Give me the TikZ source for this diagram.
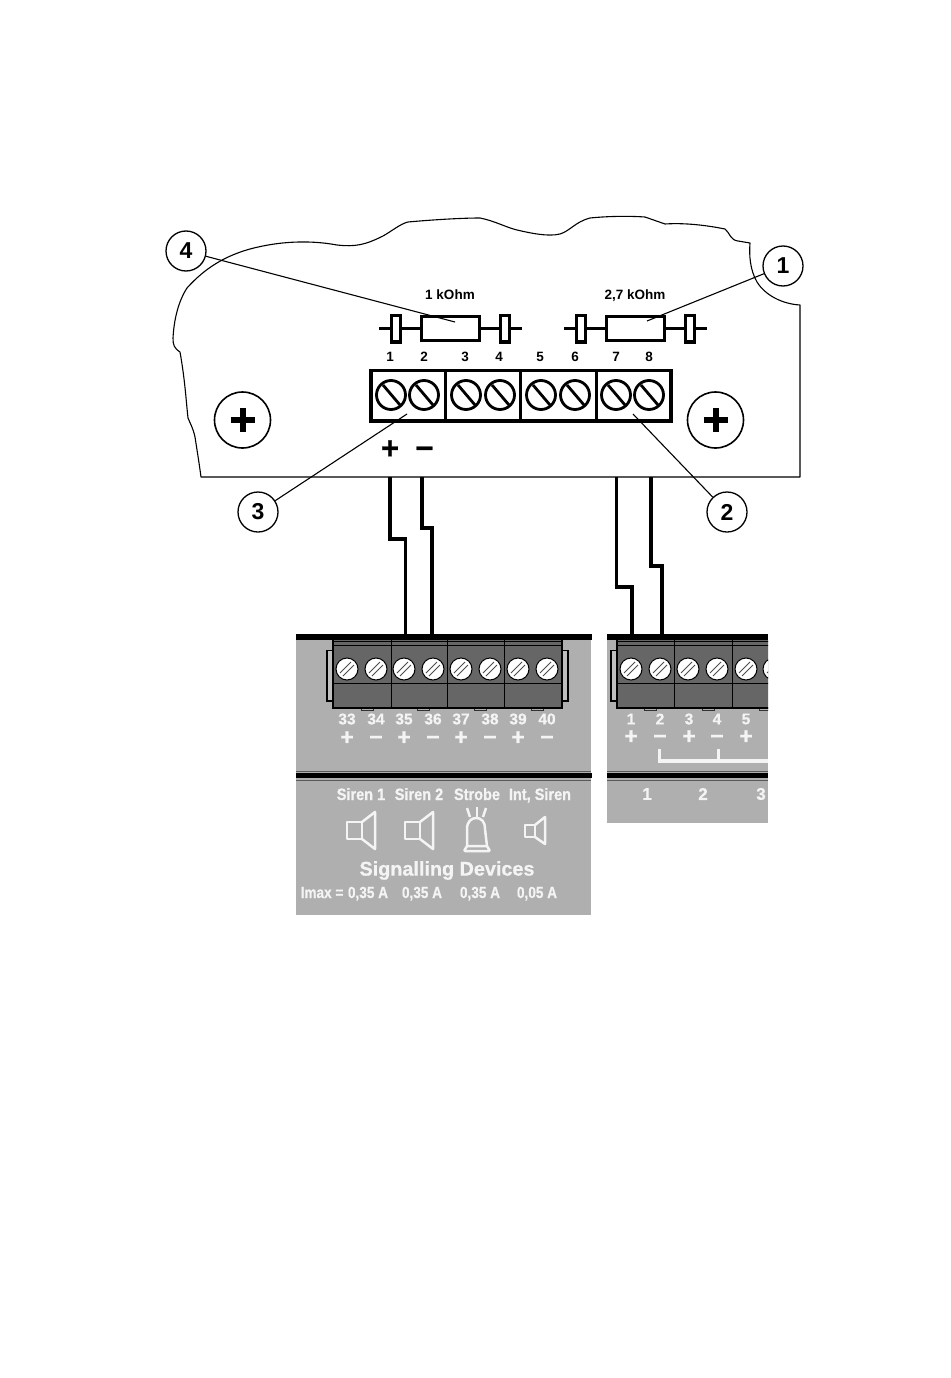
\documentclass[tikz,border=0pt]{standalone}
\usepackage{fontspec}
\setmainfont{Liberation Sans}
\newfontfamily\hv[BoldFeatures={FakeBold=0.7}]{Liberation Sans}
\newcommand{\fs}[1]{\fontsize{#1}{#1}\selectfont\bfseries}
\newcommand{\hs}[1]{\fontsize{#1}{#1}\selectfont\hv\bfseries}
\newcommand{\mns}{\vphantom{+}−}
\definecolor{panelgrey}{HTML}{AFAFAF}
\definecolor{blockgrey}{HTML}{666666}
\definecolor{softwhite}{HTML}{F4F4F4}
\tikzset{
  outline/.style={draw=black,line width=1.1pt},
  callout/.style={circle,draw=black,line width=1.3pt,minimum size=40pt,inner sep=0pt,font=\fs{23}},
  leader/.style={draw=black,line width=1.1pt},
  wire/.style={draw=black,line width=3.2pt,line join=miter},
  lead/.style={draw=black,line width=3pt},
  resbody/.style={draw=black,line width=3.5pt,fill=white},
  clipbox/.style={draw=black,line width=3.5pt,fill=white},
  blockframe/.style={draw=black,line width=3.2pt,fill=white},
  pinlabel/.style={inner sep=0pt,font=\fs{13.5}},
  vallabel/.style={inner sep=0pt,anchor=base,font=\fs{13.5}},
  bigsign/.style={inner sep=0pt,font=\hs{31}},
  screwring/.style={draw=black,line width=2.8pt},
  panelbar/.style={fill=black,draw=none},
  panelline/.style={draw=black!65,line width=.8pt},
  tlabel/.style={inner sep=0pt,text=softwhite,font=\hs{15.5}},
  slabel/.style={inner sep=0pt,text=softwhite,font=\hs{23}},
  dlabel/.style={inner sep=0pt,anchor=base,text=softwhite,xscale=.88,font=\hs{16.5}},
  ilabel/.style={inner sep=0pt,anchor=base,text=softwhite,xscale=.85,font=\hs{16}},
  icon/.style={draw=softwhite,line width=2.5pt,line join=round},
  blockline/.style={draw=black,line width=1pt},
  ear/.style={draw=black,line width=1.5pt,fill=panelgrey!80!white},
  tab/.style={draw=black!80,line width=.7pt,fill=panelgrey},
}
\newcommand{\smallscrew}[2]{%
  \draw[black,line width=1pt,fill=white] (#1,#2) circle (11);
  \draw[black!70,line width=.8pt] (#1-7,#2+4) -- (#1+4,#2-7);
  \draw[black!70,line width=.8pt] (#1-4,#2+7) -- (#1+7,#2-4);
}
\newcommand{\bigscrew}[1]{%
  \draw[screwring] (#1,395) circle (14.5);
  \draw[black,line width=2.8pt] (#1-8,385) -- (#1+9,405);
}
\begin{document}
\begin{tikzpicture}[x=1pt,y=-1pt]
\useasboundingbox (0,0) rectangle (950,1378);
\fill[white] (0,0) rectangle (950,1378);

% board outline
\draw[outline,line join=round] (201,477)
  .. controls (199,462) and (197,450) .. (195,437)
  .. controls (193,428) and (190,423) .. (188,418)
  .. controls (186,400) and (185,380) .. (180,352)
  .. controls (174,348) and (173,345) .. (173,338)
  .. controls (174,320) and (178,302) .. (187,288)
  .. controls (205,268) and (225,256) .. (250,249)
  .. controls (280,241) and (310,240) .. (337,245)
  .. controls (355,247) and (365,245) .. (383,236)
  .. controls (392,231) and (400,224) .. (408,222)
  .. controls (430,220) and (460,218) .. (480,218)
  .. controls (495,221) and (505,227) .. (517,230)
  .. controls (530,233) and (548,237) .. (560,234)
  .. controls (570,231) and (575,222) .. (590,218)
  .. controls (610,216) and (630,216) .. (645,217)
  -- (665,224)
  .. controls (680,223) and (700,224) .. (725,229)
  .. controls (730,233) and (730,240) .. (738,241)
  -- (750,243)
  .. controls (749,255) and (750,270) .. (757,282)
  .. controls (765,295) and (782,304) .. (800,305)
  -- (800,477) -- cycle;

% resistors
\coordinate (r1l) at (379,328); \coordinate (r1r) at (522,328);
\coordinate (r2l) at (564,328); \coordinate (r2r) at (707,328);
\draw[lead] (r1l) -- (r1r);
\draw[lead] (r2l) -- (r2r);
\foreach \cx in {390,499,575,684}{\draw[clipbox] (\cx+1.5,315.5) rectangle (\cx+10.5,342);}
\node[resbody,minimum width=58pt,minimum height=24pt,inner sep=0pt] (res1) at (450.5,328.5) {};
\node[resbody,minimum width=58pt,minimum height=24pt,inner sep=0pt] (res2) at (635.5,328.5) {};
\node[vallabel] (val1) at (450,299) {1 kOhm};
\node[vallabel] (val2) at (635,299) {2,7 kOhm};
\foreach \n/\x in {1/390,2/424,3/465,4/499,5/540,6/575,7/616,8/649}{
  \node[pinlabel] (pin\n) at (\x,357) {\n};}

% terminal block on board
\draw[blockframe] (371,370.5) rectangle (671,421);
\foreach \x in {445,520,596}{\draw[black,line width=3pt] (\x,370.5) -- (\x,421);}
\foreach \x in {391,424,466,500,541,575,616,649}{\bigscrew{\x}}

% mounting screws
\foreach \x in {242.5,715.5}{
  \draw[black,line width=1.6pt] (\x,420) circle (28);
  \draw[black,line width=6pt] (\x-12,420) -- (\x+12,420);
  \draw[black,line width=6pt] (\x,408) -- (\x,432);
}
\node[bigsign] (plus) at (390,449.5) {+};
\node[bigsign] (minus) at (424.5,449.5) {\mns};

% callouts and leaders
\node[callout] (c1) at (783,266) {1};
\node[callout] (c2) at (727,512) {2};
\node[callout] (c3) at (258,512) {3};
\node[callout] (c4) at (186,251) {4};
\coordinate (t1) at (647,321);
\coordinate (t2) at (633,414);
\coordinate (t3) at (407,414);
\coordinate (t4) at (455,322);
\draw[leader] (c1) -- (t1);
\draw[leader] (c2) -- (t2);
\draw[leader] (c3) -- (t3);
\draw[leader] (c4) -- (t4);

% wires
\coordinate (w1a) at (390,477); \coordinate (w1b) at (405.5,635);
\coordinate (w2a) at (422,477); \coordinate (w2b) at (432,635);
\coordinate (w3a) at (616.5,477); \coordinate (w3b) at (632,635);
\coordinate (w4a) at (651,477); \coordinate (w4b) at (662,635);
\draw[wire] (w1a) |- (397,539) -| (w1b);
\draw[wire] (w2a) |- (427,528) -| (w2b);
\draw[wire] (w3a) |- (624,587) -| (w3b);
\draw[wire] (w4a) |- (656,566) -| (w4b);

% left panel
\fill[panelgrey] (296,635) rectangle (591,915);
\draw[ear] (327,650.5) rectangle (334,701);
\draw[ear] (561,650.5) rectangle (568,701);
\foreach \x in {361,417,474,531}{\draw[tab] (\x,708) rectangle (\x+12,710.5);}
\fill[blockgrey] (333,640) rectangle (562,708);
\draw[black,line width=.7pt] (333,641.5) -- (562,641.5);
\draw[blockline] (333,645) -- (562,645);
\draw[blockline] (333,683.5) -- (562,683.5);
\draw[black,line width=1.3pt] (333,640) -- (333,708) -- (562,708) -- (562,640);
\foreach \x in {391,447,504}{\draw[blockline] (\x,640) -- (\x,708);}
\foreach \x in {347,376,404,433,461,490,518,547}{\smallscrew{\x}{669}}
\fill[panelbar] (296,634) rectangle (592,640);
\draw[panelline] (296,771) -- (591,771);
\fill[panelbar] (296,773) rectangle (592,778);
\draw[panelline] (296,780) -- (591,780);
\foreach \n/\x in {33/347,34/376,35/404,36/433,37/461,38/490,39/518,40/547}{
  \node[tlabel] (l\n) at (\x,719) {\n};}
\foreach \x in {347,404,461,518}{\node[slabel] at (\x,738) {+};}
\foreach \x in {376,433,490,547}{\node[slabel] at (\x,738) {\mns};}

\node[dlabel] (d1) at (361,800) {Siren 1};
\node[dlabel] (d2) at (419,800) {Siren 2};
\node[dlabel] (d3) at (477,800) {Strobe};
\node[dlabel] (d4) at (540,800) {Int, Siren};

% speakers
\draw[icon] (347,822) rectangle (362,839);
\draw[icon] (362,822) -- (375,812) -- (375,849) -- (362,839);
\draw[icon] (405,822) rectangle (420,839);
\draw[icon] (420,822) -- (433,812) -- (433,849) -- (420,839);
\draw[icon] (525,825) rectangle (535,837);
\draw[icon] (535,825) -- (545,817) -- (545,844) -- (535,837);
% strobe
\draw[icon] (467,846) -- (467,829) .. controls (467,821) and (472,818) .. (476,818)
  .. controls (481,818) and (485,821) .. (485,829) -- (487,846);
\draw[icon,rounded corners=1pt] (464,851) -- (490,851) -- (487,846) -- (467,846) -- cycle;
\draw[icon] (467,808) -- (470,817);
\draw[icon] (477,807) -- (477,817);
\draw[icon] (486,808) -- (483,817);

\node[text=softwhite,inner sep=0pt,font=\hs{19.8}] (sig) at (447,870.5) {Signalling Devices};
\node[ilabel,anchor=base west] (imax) at (300.5,898) {Imax =};
\foreach \x/\t in {368/0a,422/0b,480/0c}{\node[ilabel] (i\t) at (\x,898) {0,35 A};}
\node[ilabel] (i0d) at (537,898) {0,05 A};

% right panel
\fill[panelgrey] (607,635) rectangle (768,823);
\begin{scope}
\clip (600,630) rectangle (768,830);
\draw[ear] (611,650.5) rectangle (618,701);
\foreach \x in {644,702,759}{\draw[tab] (\x,708) rectangle (\x+12,710.5);}
\fill[blockgrey] (617,640) rectangle (775,708);
\draw[black,line width=.7pt] (617,641.5) -- (775,641.5);
\draw[blockline] (617,645) -- (775,645);
\draw[blockline] (617,683.5) -- (775,683.5);
\draw[black,line width=1.3pt] (617,640) -- (617,708) -- (775,708);
\foreach \x in {674,732}{\draw[blockline] (\x,640) -- (\x,708);}
\foreach \x in {631,660,688,717,746,774}{\smallscrew{\x}{669}}
\end{scope}
\fill[panelbar] (607,634) rectangle (768,640);
\draw[panelline] (607,771) -- (768,771);
\fill[panelbar] (607,773) rectangle (768,778);
\draw[panelline] (607,780) -- (768,780);
\foreach \n/\x in {1/631,2/660,3/689,4/717,5/746}{
  \node[tlabel] (m\n) at (\x,719) {\n};}
\foreach \x in {631,689,746}{\node[slabel] at (\x,737) {+};}
\foreach \x in {660,717}{\node[slabel] at (\x,737) {\mns};}
\draw[softwhite,line width=3.2pt] (659.5,749) -- (659.5,761) -- (768,761);
\draw[softwhite,line width=3pt] (718,749) -- (718,761);
\node[inner sep=0pt,text=softwhite,font=\hs{17}] (g1) at (647,794) {1};
\node[inner sep=0pt,text=softwhite,font=\hs{17}] (g2) at (703,794) {2};
\node[inner sep=0pt,text=softwhite,font=\hs{17}] (g3) at (761,794) {3};
\end{tikzpicture}
\end{document}
